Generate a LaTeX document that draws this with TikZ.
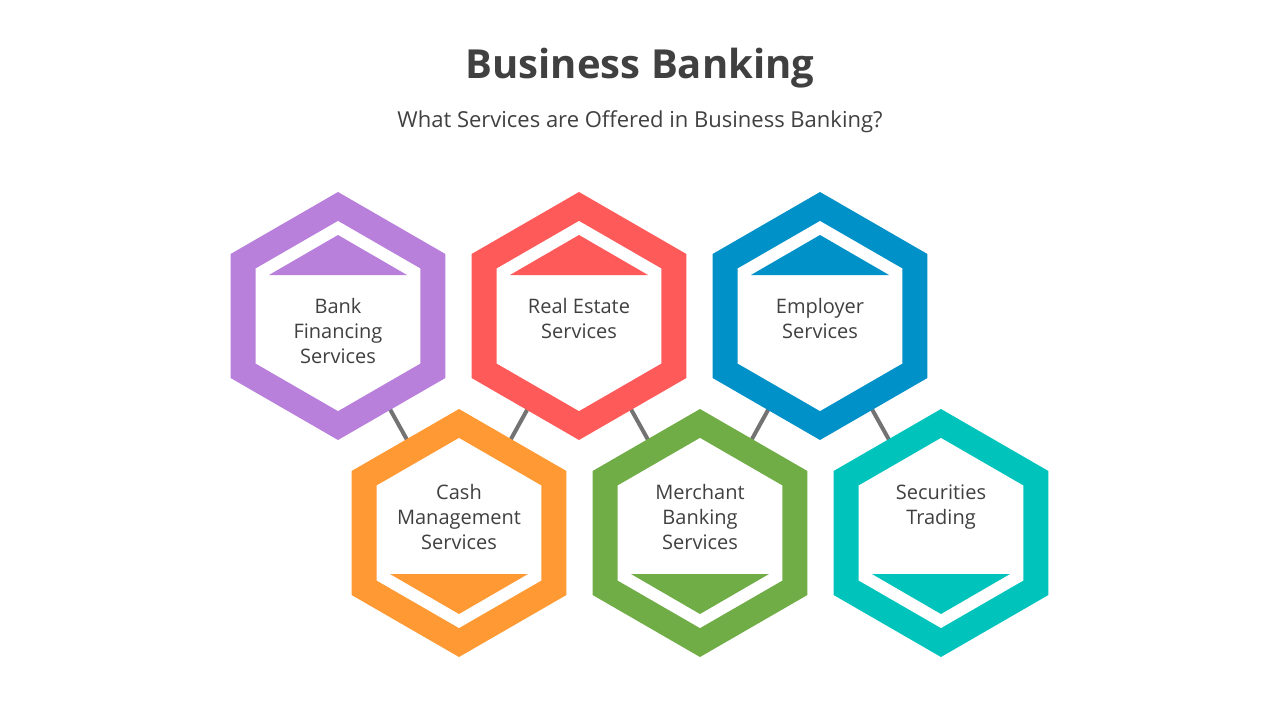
\documentclass[tikz,border=0pt]{standalone}
\usepackage{fontspec}
\setmainfont{Open Sans}
\usetikzlibrary{positioning}
\definecolor{txt}{HTML}{404040}
\definecolor{cpurple}{HTML}{B87FDB}
\definecolor{cred}{HTML}{FF5A5A}
\definecolor{cblue}{HTML}{0091C8}
\definecolor{corange}{HTML}{FF9933}
\definecolor{cgreen}{HTML}{70AD47}
\definecolor{cteal}{HTML}{00C4BC}
\tikzset{
    hexlabel/.style={
           text=txt,
           align=center,
           anchor=north,
           font=\fontsize{15}{18.5}\selectfont
           },
    link/.style={
           draw=gray!90!black, line width=3pt
           }
}
\newcommand{\hexa}[3]{% center, colour, triangle on top (1) or bottom (-1)
   \fill[#2,shift={(#1)}] (90:124) -- (150:124) -- (210:124) -- (270:124) -- (330:124) -- (30:124) -- cycle;
   \fill[white,shift={(#1)}] (90:95) -- (150:95) -- (210:95) -- (270:95) -- (330:95) -- (30:95) -- cycle;
   \fill[#2,shift={(#1)}] (0,-81*#3) -- (-69,-41*#3) -- (69,-41*#3) -- cycle;
}

\begin{document}
\begin{tikzpicture}[x=0.75pt,y=-0.75pt]
   \useasboundingbox (0,0) rectangle (1280,720);
   \node[text=txt,font=\fontsize{30}{36}\selectfont\bfseries] (title) at (640,68) {Business Banking};
   \node[text=txt,font=\fontsize{16.5}{20}\selectfont] (sub) at (640,122) {What Services are Offered in Business Banking?};

   \coordinate (bank) at (338,316);
   \coordinate (estate) at (579,316);
   \coordinate (employer) at (820,316);
   \coordinate (cash) at (459,533);
   \coordinate (merchant) at (700,533);
   \coordinate (secur) at (941,533);

   \draw[link] (bank) -- (cash);
   \draw[link] (estate) -- (cash);
   \draw[link] (estate) -- (merchant);
   \draw[link] (employer) -- (merchant);
   \draw[link] (employer) -- (secur);

   \hexa{bank}{cpurple}{1}
   \hexa{estate}{cred}{1}
   \hexa{employer}{cblue}{1}
   \hexa{cash}{corange}{-1}
   \hexa{merchant}{cgreen}{-1}
   \hexa{secur}{cteal}{-1}

   \node[hexlabel] (t1) at (338,294) {Bank\\Financing\\Services};
   \node[hexlabel] (t2) at (579,294) {Real Estate\\Services};
   \node[hexlabel] (t3) at (820,294) {Employer\\Services};
   \node[hexlabel] (t4) at (459,480) {Cash\\Management\\Services};
   \node[hexlabel] (t5) at (700,480) {Merchant\\Banking\\Services};
   \node[hexlabel] (t6) at (941,480) {Securities\\Trading};
\end{tikzpicture}
\end{document}
